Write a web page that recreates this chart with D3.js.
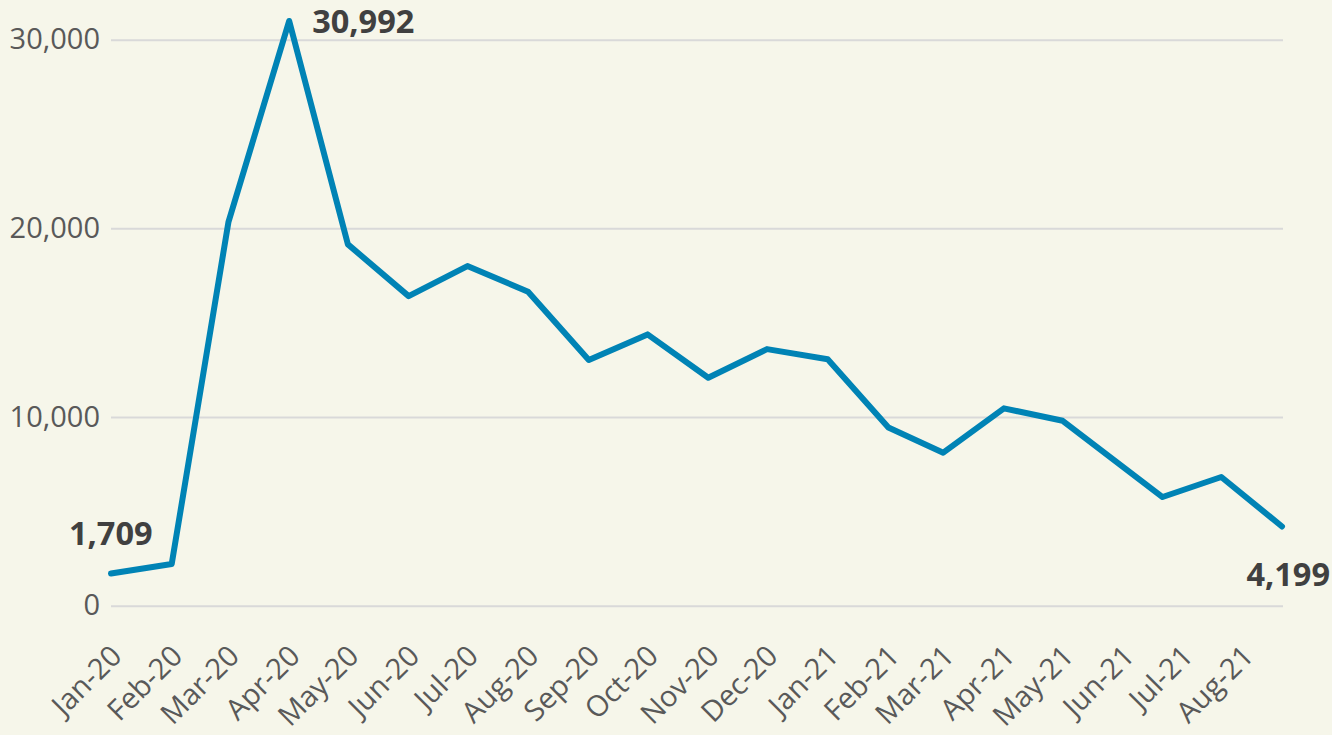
<!DOCTYPE html>
<html><head><meta charset="utf-8">
<script src="https://cdn.jsdelivr.net/npm/d3@7"></script>
<style>
html,body{margin:0;padding:0;background:#F6F6EA;}
svg{display:block;}
text{font-family:"Open Sans",sans-serif;}
</style></head>
<body>
<svg id="chart" width="1332" height="735"></svg>
<script>
const dates = ["2020-01-01","2020-02-01","2020-03-01","2020-04-01","2020-05-01","2020-06-01","2020-07-01","2020-08-01","2020-09-01","2020-10-01","2020-11-01","2020-12-01","2021-01-01","2021-02-01","2021-03-01","2021-04-01","2021-05-01","2021-06-21","2021-07-21","2021-08-21"];
const values = [1709,2210,20350,30992,19150,16410,18000,16640,13020,14380,12080,13600,13060,9450,8110,10460,9800,5760,6820,4199];
const yTicks = [0,10000,20000,30000];
const xTickDates = ["2020-01-01","2020-02-01","2020-03-01","2020-04-01","2020-05-01","2020-06-01","2020-07-01","2020-08-01","2020-09-01","2020-10-01","2020-11-01","2020-12-01","2021-01-01","2021-02-01","2021-03-01","2021-04-01","2021-05-01","2021-06-01","2021-07-01","2021-08-01"];
const labelIdx = [0,3,19];

const parse = d3.utcParse("%Y-%m-%d");
const data = dates.map((d,i)=>({date:parse(d), value:values[i]}));
const svg = d3.select("#chart");
svg.append("rect").attr("width",1332).attr("height",735).attr("fill","#F6F6EA");

const x = d3.scaleUtc().domain([data[0].date, data[data.length-1].date]).range([111,1282]);
const y = d3.scaleLinear().domain([0,30000]).range([605.7,39.7]);

// gridlines + y labels
const yAxis = d3.axisLeft(y).tickValues(yTicks).tickSize(-(1283-111)).tickPadding(11).tickFormat(d3.format(","));
const gy = svg.append("g").attr("transform","translate(111,0)").call(yAxis);
gy.select(".domain").remove();
gy.selectAll(".tick line").attr("stroke","#D9D9D9").attr("stroke-width",2);
gy.selectAll(".tick text").attr("fill","#595959").attr("font-size",29).attr("font-family","Open Sans, sans-serif");

// x labels
const xAxis = d3.axisBottom(x).tickValues(xTickDates.map(parse)).tickSize(0).tickFormat(d3.utcFormat("%b-%y"));
const gx = svg.append("g").attr("transform","translate(0,605.7)").call(xAxis);
gx.select(".domain").remove();
gx.selectAll(".tick text")
  .attr("fill","#595959").attr("font-size",29).attr("font-family","Open Sans, sans-serif")
  .attr("text-anchor","end").attr("dy",0).attr("y",0)
  .attr("transform","translate(12,52) rotate(-45)");

// line
const line = d3.line().x(d=>x(d.date)).y(d=>y(d.value));
svg.append("path").datum(data).attr("d",line).attr("fill","none")
  .attr("stroke","#0083B5").attr("stroke-width",6).attr("stroke-linejoin","round").attr("stroke-linecap","round");

// data labels
const fmt = d3.format(",");
const offs = {0:[-42,-28,"start"],3:[23,12,"start"],19:[48,60,"end"]};
labelIdx.forEach(i=>{
  const d = data[i];
  const o = offs[i];
  svg.append("text").attr("x",x(d.date)+o[0]).attr("y",y(d.value)+o[1])
    .attr("text-anchor",o[2]).attr("font-weight","bold").attr("font-size",32.5)
    .attr("fill","#404040").text(fmt(d.value));
});
</script>
</body></html>
